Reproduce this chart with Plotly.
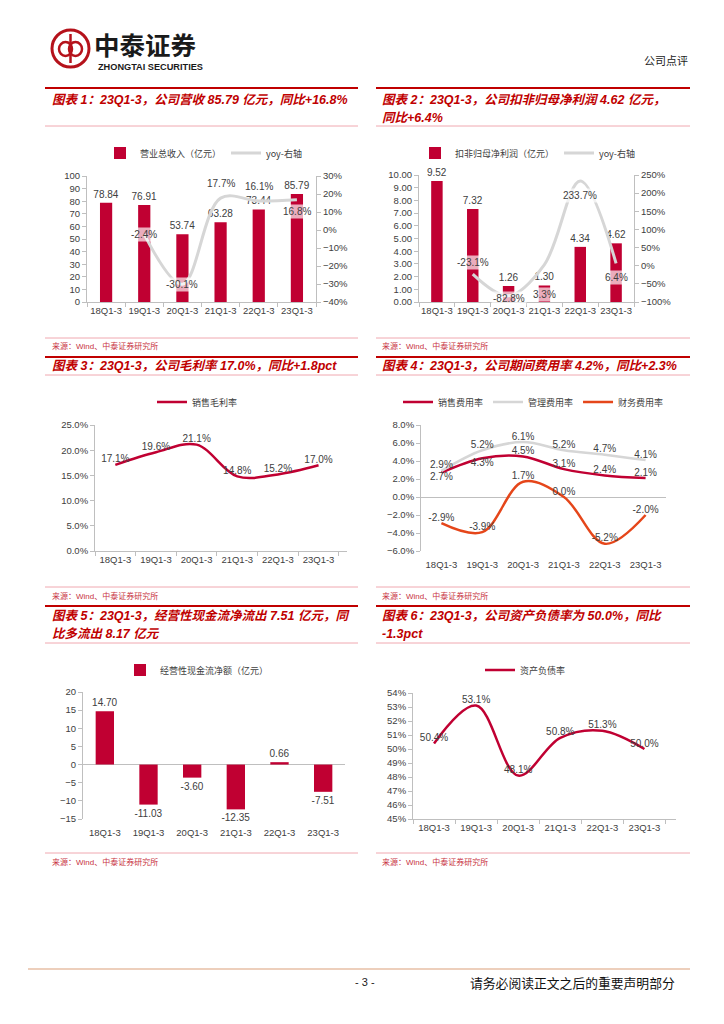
import plotly.graph_objects as go

W, H = 724, 1024

# ---------------- data ----------------
cats = ["18Q1-3", "19Q1-3", "20Q1-3", "21Q1-3", "22Q1-3", "23Q1-3"]
revenue = [78.84, 76.91, 53.74, 63.28, 73.44, 85.79]
revenue_yoy = [None, -2.4, -30.1, 17.7, 16.1, 16.8]
np_deducted = [9.52, 7.32, 1.26, 1.30, 4.34, 4.62]
np_yoy = [None, -23.1, -82.8, 3.3, 233.7, 6.4]
gross_margin = [17.1, 19.6, 21.1, 14.8, 15.2, 17.0]
sales_exp = [2.7, 4.3, 4.5, 3.1, 2.4, 2.1]
admin_exp = [2.9, 5.2, 6.1, 5.2, 4.7, 4.1]
fin_exp = [-2.9, -3.9, 1.7, 0.0, -5.2, -2.0]
op_cf = [14.70, -11.03, -3.60, -12.35, 0.66, -7.51]
debt_ratio = [50.4, 53.1, 48.1, 50.8, 51.3, 50.0]

# ---------------- styles ----------------
RED = "#C00032"
TITLE_RED = "#C00000"
GRAY_LINE = "#D6D6D6"
ORANGE = "#E5461A"
AXIS = "#BFBFBF"
TXT = "#404040"
LAT = "Liberation Sans, Arial, Noto Sans CJK SC"
CJK = "Noto Sans CJK SC, Liberation Sans"
LBL_BG = "rgba(255,255,255,0.68)"
LBL_FONT = dict(size=10, color=TXT, family=LAT)

# label offsets (px) for yoy annotations
rev_yoy_shift = [0, 0, 0, 15, 15, -12]
np_yoy_shift = [0, 12, -3, -30, -15, -14]
sales_pos = ["bottom center", "bottom center", "top center", "top center", "top center", "top center"]


def fx(p):
    return p / W


def fy(p):
    return 1 - p / H


fig = go.Figure()

# ---- Chart 1 ----
fig.add_trace(go.Bar(x=cats, y=revenue, xaxis="x", yaxis="y", marker_color=RED, width=0.32,
                     text=[f"{v:.2f}" for v in revenue], textposition="outside",
                     textfont=LBL_FONT, cliponaxis=False, constraintext="none",
                     name="营业总收入（亿元）", legend="legend"))
fig.add_trace(go.Scatter(x=cats, y=revenue_yoy, xaxis="x", yaxis="y2", mode="lines",
                         line=dict(color=GRAY_LINE, width=3, shape="spline", smoothing=1),
                         name="yoy-右轴", legend="legend", cliponaxis=False))

# ---- Chart 2 ----
fig.add_trace(go.Bar(x=cats, y=np_deducted, xaxis="x2", yaxis="y3", marker_color=RED, width=0.32,
                     text=[f"{v:.2f}" for v in np_deducted], textposition="outside",
                     textfont=LBL_FONT, cliponaxis=False, constraintext="none",
                     name="扣非归母净利润（亿元）", legend="legend2"))
fig.add_trace(go.Scatter(x=cats, y=np_yoy, xaxis="x2", yaxis="y4", mode="lines",
                         line=dict(color=GRAY_LINE, width=3, shape="spline", smoothing=1),
                         name="yoy-右轴", legend="legend2", cliponaxis=False))

# ---- Chart 3 ----
fig.add_trace(go.Scatter(x=cats, y=gross_margin, xaxis="x3", yaxis="y5", mode="lines+text",
                         line=dict(color=RED, width=2.5, shape="spline", smoothing=1),
                         text=[f"{v:.1f}%" for v in gross_margin], textposition="top center",
                         textfont=LBL_FONT, cliponaxis=False,
                         name="销售毛利率", legend="legend3"))

# ---- Chart 4 ----
fig.add_trace(go.Scatter(x=cats, y=sales_exp, xaxis="x4", yaxis="y6", mode="lines+text",
                         line=dict(color=RED, width=2.5, shape="spline", smoothing=1),
                         text=[f"{v:.1f}%" for v in sales_exp], textposition=sales_pos,
                         textfont=LBL_FONT, cliponaxis=False,
                         name="销售费用率", legend="legend4"))
fig.add_trace(go.Scatter(x=cats, y=admin_exp, xaxis="x4", yaxis="y6", mode="lines+text",
                         line=dict(color=GRAY_LINE, width=2.5, shape="spline", smoothing=1),
                         text=[f"{v:.1f}%" for v in admin_exp], textposition="top center",
                         textfont=LBL_FONT, cliponaxis=False,
                         name="管理费用率", legend="legend4"))
fig.add_trace(go.Scatter(x=cats, y=fin_exp, xaxis="x4", yaxis="y6", mode="lines+text",
                         line=dict(color=ORANGE, width=2.5, shape="spline", smoothing=1),
                         text=[f"{v:.1f}%" for v in fin_exp], textposition="top center",
                         textfont=LBL_FONT, cliponaxis=False,
                         name="财务费用率", legend="legend4"))

# ---- Chart 5 ----
fig.add_trace(go.Bar(x=cats, y=op_cf, xaxis="x5", yaxis="y7", marker_color=RED, width=0.42,
                     text=[f"{v:.2f}" for v in op_cf], textposition="outside",
                     textfont=LBL_FONT, cliponaxis=False, constraintext="none",
                     name="经营性现金流净额（亿元）", legend="legend5"))

# ---- Chart 6 ----
fig.add_trace(go.Scatter(x=cats, y=debt_ratio, xaxis="x6", yaxis="y8", mode="lines+text",
                         line=dict(color=RED, width=2.5, shape="spline", smoothing=1),
                         text=[f"{v:.1f}%" for v in debt_ratio], textposition="top center",
                         textfont=LBL_FONT, cliponaxis=False,
                         name="资产负债率", legend="legend6"))

# ---------------- yoy labels with semi-transparent white boxes ----------------
annotations = []
for c, v, s in zip(cats, revenue_yoy, rev_yoy_shift):
    if v is None:
        continue
    annotations.append(dict(x=c, y=v, xref="x", yref="y2", text=f"{v:.1f}%", showarrow=False,
                            yshift=s, bgcolor=LBL_BG, borderpad=1, font=LBL_FONT))
for c, v, s in zip(cats, np_yoy, np_yoy_shift):
    if v is None:
        continue
    annotations.append(dict(x=c, y=v, xref="x2", yref="y4", text=f"{v:.1f}%", showarrow=False,
                            yshift=s, bgcolor=LBL_BG, borderpad=1, font=LBL_FONT))


def ptext(x, y, text, size, color, family=CJK, xanchor="left"):
    annotations.append(dict(x=fx(x), y=fy(y), xref="paper", yref="paper", text=text,
                            showarrow=False, xanchor=xanchor, yanchor="middle",
                            font=dict(size=size, color=color, family=family)))


# header
ptext(92, 43, "<b>中泰证券</b>", 25.5, "#1a1a1a")
ptext(96, 66.5, "<b>ZHONGTAI SECURITIES</b>", 9.2, "#1a1a1a", family=LAT)
ptext(690, 60, "公司点评", 11, "#222222", xanchor="right")

# titles
tf = LAT
ptext(50, 100, "<b><i>图表 1：23Q1-3，公司营收 85.79 亿元，同比+16.8%</i></b>", 12.5, TITLE_RED, tf)
ptext(380, 100, "<b><i>图表 2：23Q1-3，公司扣非归母净利润 4.62 亿元，</i></b>", 12.5, TITLE_RED, tf)
ptext(380, 118, "<b><i>同比+6.4%</i></b>", 12.5, TITLE_RED, tf)
ptext(50, 366, "<b><i>图表 3：23Q1-3，公司毛利率 17.0%，同比+1.8pct</i></b>", 12.5, TITLE_RED, tf)
ptext(380, 366, "<b><i>图表 4：23Q1-3，公司期间费用率 4.2%，同比+2.3%</i></b>", 12.5, TITLE_RED, tf)
ptext(50, 616, "<b><i>图表 5：23Q1-3，经营性现金流净流出 7.51 亿元，同</i></b>", 12.5, TITLE_RED, tf)
ptext(50, 634, "<b><i>比多流出 8.17 亿元</i></b>", 12.5, TITLE_RED, tf)
ptext(380, 616, "<b><i>图表 6：23Q1-3，公司资产负债率为 50.0%，同比</i></b>", 12.5, TITLE_RED, tf)
ptext(380, 634, "<b><i>-1.3pct</i></b>", 12.5, TITLE_RED, tf)

# sources
SRC = "来源：Wind、中泰证券研究所"
SRC_C = "#C8333F"
for (sx, sy) in [(50, 346), (380, 346), (50, 596), (380, 596), (50, 862), (380, 862)]:
    ptext(sx, sy, SRC, 8, SRC_C, family=LAT)

# footer
ptext(365, 982, "- 3 -", 11, "#222222", family=LAT, xanchor="center")
ptext(677, 982, "请务必阅读正文之后的重要声明部分", 12.8, "#111111", xanchor="right")

# ---------------- decorative shapes ----------------
shapes = []


def hline(x0, x1, y, color, width):
    shapes.append(dict(type="line", xref="paper", yref="paper", x0=fx(x0), x1=fx(x1),
                       y0=fy(y), y1=fy(y), line=dict(color=color, width=width)))


PINK = "#F0A8B0"
for y in (88, 357, 606):
    hline(45, 358, y, TITLE_RED, 1.8)
    hline(376, 690, y, TITLE_RED, 1.8)
for y in (126, 375, 643, 338, 587, 853):
    hline(45, 358, y, PINK, 1)
    hline(376, 690, y, PINK, 1)
hline(28, 690, 969, "#EDCFBC", 2.2)

# logo emblem
shapes.append(dict(type="circle", xref="paper", yref="paper", x0=fx(52), x1=fx(89),
                   y0=fy(67), y1=fy(30), line=dict(color="#B5121B", width=3)))
shapes.append(dict(type="circle", xref="paper", yref="paper", x0=fx(59), x1=fx(72),
                   y0=fy(56), y1=fy(42), line=dict(color="#B5121B", width=2.5)))
shapes.append(dict(type="circle", xref="paper", yref="paper", x0=fx(69), x1=fx(82),
                   y0=fy(56), y1=fy(42), line=dict(color="#B5121B", width=2.5)))
shapes.append(dict(type="line", xref="paper", yref="paper", x0=fx(70.5), x1=fx(70.5),
                   y0=fy(63), y1=fy(34), line=dict(color="#B5121B", width=2.5)))

# ---------------- axes ----------------
tickfont = dict(size=9.5, color=TXT, family=LAT)


def xax(d0, d1, anchor, rng=(-0.5, 5.5), line=True):
    d = dict(domain=[fx(d0), fx(d1)], anchor=anchor, type="category", range=list(rng),
             showline=line, linecolor=AXIS, linewidth=1, tickangle=0,
             ticks="outside" if line else "", tickson="boundaries", ticklen=4, tickcolor=AXIS,
             tickfont=tickfont, showgrid=False, zeroline=False, fixedrange=True)
    if not line:
        d["ticklabelstandoff"] = 6
    return d


def yax(top, bottom, anchor, rng, dtick, fmt=None, suffix="", zl=False):
    d = dict(domain=[fy(bottom), fy(top)], anchor=anchor, range=list(rng), dtick=dtick, tick0=0,
             showline=True, linecolor=AXIS, linewidth=1, ticks="outside", ticklen=4,
             tickcolor=AXIS, tickfont=tickfont, showgrid=False, zeroline=zl,
             zerolinecolor=AXIS, zerolinewidth=1, ticksuffix=suffix, fixedrange=True)
    if fmt:
        d["tickformat"] = fmt
    return d


def yright(over, anchor, rng, dtick):
    return dict(overlaying=over, side="right", anchor=anchor, range=list(rng), dtick=dtick, tick0=0,
                showline=True, linecolor=AXIS, linewidth=1, ticks="outside", ticklen=4,
                tickcolor=AXIS, tickfont=tickfont, showgrid=False, zeroline=False,
                ticksuffix="%", fixedrange=True)


layout_axes = dict(
    xaxis=xax(87, 316, "y"),
    yaxis=yax(176, 302, "x", (0, 100), 10),
    yaxis2=yright("y", "x", (-40, 30), 10),
    xaxis2=xax(419, 634, "y3"),
    yaxis3=yax(175, 302, "x2", (0, 10), 1, fmt=".2f"),
    yaxis4=yright("y3", "x2", (-100, 250), 50),
    xaxis3=xax(95, 347, "y5", rng=(-0.5, 5.7)),
    yaxis5=yax(425, 551, "x3", (0, 25), 5, fmt=".1f", suffix="%"),
    xaxis4=xax(421, 666, "y6", line=False),
    yaxis6=yax(425, 551, "x4", (-6, 8), 2, fmt=".1f", suffix="%", zl=True),
    xaxis5=xax(83, 345, "y7", line=False),
    yaxis7=yax(692, 819, "x5", (-15, 20), 5, zl=True),
    xaxis6=xax(413, 676, "y8", rng=(-0.5, 5.75)),
    yaxis8=yax(693, 819, "x6", (45, 54), 1, suffix="%"),
)

legfont = dict(size=9, color=TXT, family=CJK)


def leg(x, y):
    return dict(x=fx(x), y=fy(y), xanchor="left", yanchor="middle", orientation="h",
                font=legfont, bgcolor="rgba(0,0,0,0)", itemwidth=30, tracegroupgap=0)


fig.update_layout(
    width=W, height=H, margin=dict(l=0, r=0, t=0, b=0),
    paper_bgcolor="white", plot_bgcolor="white", template="none",
    font=dict(family=LAT, color=TXT),
    showlegend=True,
    legend=leg(100, 153),
    legend2=leg(415, 153),
    legend3=leg(152, 402),
    legend4=leg(398, 402),
    legend5=leg(120, 670),
    legend6=leg(480, 670),
    annotations=annotations,
    shapes=shapes,
    bargap=0.5,
    **layout_axes,
)

fig.write_html("out.html", config={"displayModeBar": False},
               post_script="document.body.style.margin='0px';")
